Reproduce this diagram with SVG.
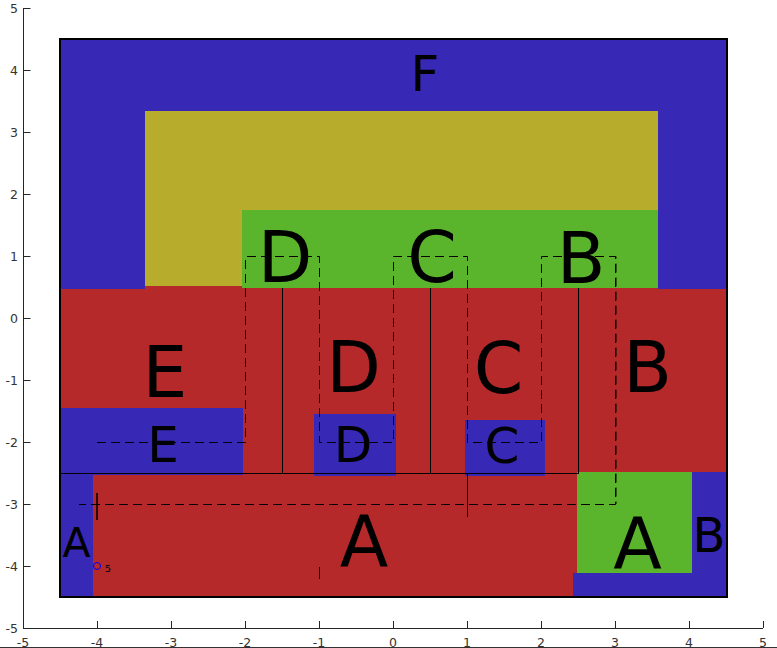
<svg xmlns="http://www.w3.org/2000/svg" width="777" height="648" viewBox="0 0 777 648">
<style>
.blue{fill:#3728B6}
.red{fill:#B5292A}
.olive{fill:#B8AC2D}
.green{fill:#5AB52C}
.lbl{font-family:"DejaVu Sans","Liberation Sans",sans-serif;fill:#000;text-anchor:middle}
.big{font-size:71px}
.mid{font-size:50px}
.tick{font-family:"DejaVu Sans","Liberation Sans",sans-serif;font-size:12.5px;fill:#333}
.ax{stroke:#262626;stroke-width:1;fill:none}
.solid{stroke:#000;stroke-width:1;fill:none}
.dash{stroke:#000;stroke-width:1;fill:none;stroke-dasharray:9,5}
</style>
<rect width="777" height="648" fill="#fff"/>
<g id="axes">
<line class="ax" x1="23.5" y1="8" x2="23.5" y2="628"/>
<line class="ax" x1="23" y1="628.5" x2="763" y2="628.5"/>
<path class="ax" d="M23.5 8.5h7M23.5 70.5h7M23.5 132.5h7M23.5 194.5h7M23.5 256.5h7M23.5 318.5h7M23.5 380.5h7M23.5 442.5h7M23.5 504.5h7M23.5 566.5h7M23.5 628.5h7"/>
<path class="ax" d="M97.5 628v-7M171.5 628v-7M245.5 628v-7M319.5 628v-7M393.5 628v-7M467.5 628v-7M541.5 628v-7M615.5 628v-7M689.5 628v-7M763.5 628v-7"/>
<g class="tick" text-anchor="end">
<text x="18" y="12.5">5</text>
<text x="18" y="74.5">4</text>
<text x="18" y="136.5">3</text>
<text x="18" y="198.5">2</text>
<text x="18" y="260.5">1</text>
<text x="18" y="322.5">0</text>
<text x="18" y="384.5">-1</text>
<text x="18" y="446.5">-2</text>
<text x="18" y="508.5">-3</text>
<text x="18" y="570.5">-4</text>
<text x="18" y="632.5">-5</text>
</g>
<g class="tick" text-anchor="middle">
<text x="23" y="646.5">-5</text>
<text x="97" y="646.5">-4</text>
<text x="171" y="646.5">-3</text>
<text x="245" y="646.5">-2</text>
<text x="319" y="646.5">-1</text>
<text x="393" y="646.5">0</text>
<text x="467" y="646.5">1</text>
<text x="541" y="646.5">2</text>
<text x="615" y="646.5">3</text>
<text x="689" y="646.5">4</text>
<text x="763" y="646.5">5</text>
</g>
<line x1="0" y1="647.5" x2="777" y2="647.5" stroke="#333" stroke-width="1"/>
</g>
<g id="region-F">
<rect class="blue" x="60" y="39" width="667" height="558"/>
<text class="lbl mid" x="425" y="91">F</text>
</g>
<g id="region-red">
<rect class="red" x="60" y="289" width="667" height="184"/>
<rect class="red" x="145" y="286" width="513" height="4"/>
<rect class="red" x="93" y="472" width="484" height="125"/>
<text class="lbl big" x="165" y="397">E</text>
<text class="lbl big" x="353.5" y="392">D</text>
<text class="lbl big" x="498.5" y="393">C</text>
<text class="lbl big" x="647.5" y="392">B</text>
<text class="lbl big" x="364" y="566">A</text>
</g>
<g id="region-olive">
<rect class="olive" x="145" y="111" width="513" height="175"/>
</g>
<g id="region-green-top">
<rect class="green" x="242" y="210" width="416" height="78"/>
<text class="lbl big" x="285" y="282">D</text>
<text class="lbl big" x="432" y="282">C</text>
<text class="lbl big" x="581" y="283">B</text>
</g>
<g id="region-E">
<rect class="blue" x="60" y="408" width="183" height="67"/>
<text class="lbl mid" x="163" y="462">E</text>
</g>
<g id="region-D">
<rect class="blue" x="314" y="414" width="82" height="62"/>
<text class="lbl mid" x="353" y="462">D</text>
</g>
<g id="region-C">
<rect class="blue" x="465" y="420" width="80" height="56"/>
<text class="lbl mid" x="502" y="463">C</text>
</g>
<g id="region-A-green">
<rect class="green" x="577" y="472" width="115" height="101"/>
<text class="lbl big" x="637.5" y="568">A</text>
</g>
<g id="region-B-blue">
<rect class="blue" x="692" y="472" width="35" height="125"/>
<rect class="blue" x="573" y="573" width="154" height="24"/>
<text class="lbl" x="709" y="552" font-size="48">B</text>
</g>
<g id="region-A-blue">
<text class="lbl" x="76.5" y="557" font-size="41">A</text>
</g>
<rect x="60" y="39" width="667" height="558" fill="none" stroke="#000" stroke-width="2"/>
<g id="connectors">
<line class="solid" x1="60" y1="473.5" x2="579" y2="473.5"/>
<line class="solid" x1="282.5" y1="288" x2="282.5" y2="473"/>
<line class="solid" x1="430.5" y1="288" x2="430.5" y2="473"/>
<line class="solid" x1="578.5" y1="288" x2="578.5" y2="473"/>
<line class="solid" x1="467.5" y1="473" x2="467.5" y2="517"/>
<line class="solid" x1="319.5" y1="567" x2="319.5" y2="579"/>
<line x1="97" y1="493" x2="97" y2="520" stroke="#000" stroke-width="1.5"/>
<path class="dash" d="M97 442.5H245.5V256.5H319.5V442.5H393.5V256.5H467.5V442.5H541.5V256.5H615.5V504.5H79"/>
<line class="dash" x1="616" y1="256.5" x2="616" y2="504" stroke-dashoffset="7"/>
<circle cx="97" cy="566" r="3.5" fill="none" stroke="#0000ff" stroke-width="1"/>
<text x="105" y="572" font-family="DejaVu Sans, sans-serif" font-size="9.5" fill="#000">5</text>
</g>
</svg>
